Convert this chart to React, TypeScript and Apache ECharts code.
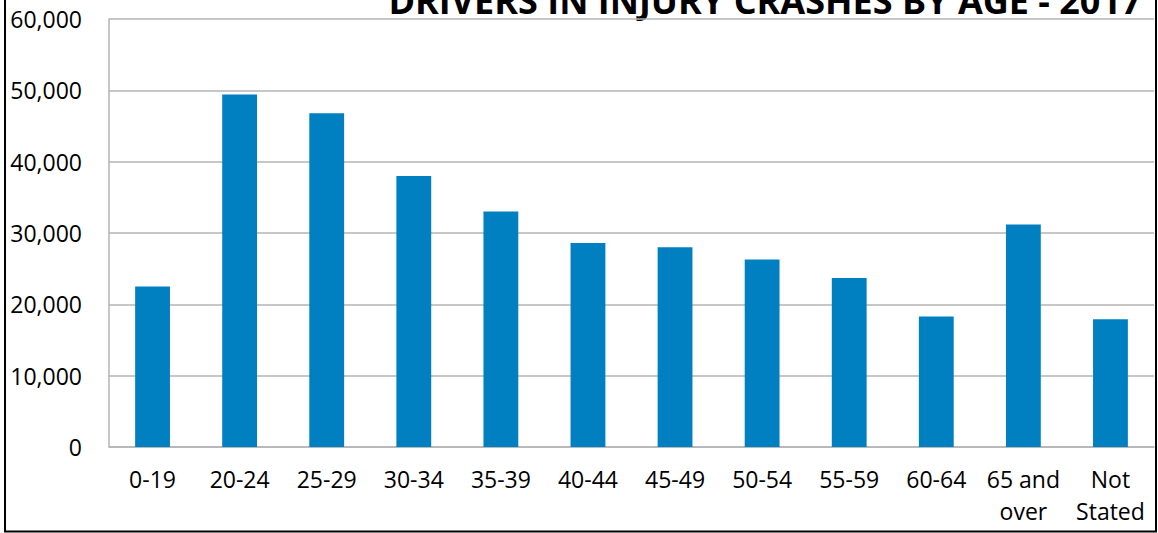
import React, { useEffect, useRef } from "react";
import * as echarts from "echarts";

const categories = [
  "0-19",
  "20-24",
  "25-29",
  "30-34",
  "35-39",
  "40-44",
  "45-49",
  "50-54",
  "55-59",
  "60-64",
  "65 and\nover",
  "Not\nStated",
];

const drivers = [22500, 49400, 46800, 38000, 33000, 28600, 28000, 26300, 23700, 18300, 31200, 17900];

const titleText = "DRIVERS IN INJURY CRASHES BY AGE - 2017";

const FONT = "'Open Sans', 'Noto Sans', sans-serif";

export default function App() {
  const ref = useRef<HTMLDivElement>(null);

  useEffect(() => {
    if (!ref.current) return;
    const chart = echarts.init(ref.current, null, { renderer: "svg" });
    chart.setOption({
      animation: false,
      backgroundColor: "#ffffff",
      textStyle: { fontFamily: FONT },
      grid: { left: 109, right: 4, top: 19, bottom: 86, containLabel: false },
      xAxis: {
        type: "category",
        data: categories,
        axisTick: { show: false },
        axisLine: { show: true, lineStyle: { color: "#b4b4b4", width: 1.5 } },
        axisLabel: {
          color: "#000",
          fontSize: 23,
          fontFamily: FONT,
          margin: 16,
          lineHeight: 32,
          interval: 0,
        },
      },
      yAxis: {
        type: "value",
        min: 0,
        max: 60000,
        interval: 10000,
        axisLine: { show: true, lineStyle: { color: "#b4b4b4", width: 1.5 } },
        axisTick: { show: false },
        splitLine: { show: true, lineStyle: { color: "#b4b4b4", width: 1.5 } },
        axisLabel: {
          color: "#000",
          fontSize: 23,
          fontFamily: FONT,
          margin: 27,
          formatter: (v: number) => v.toLocaleString("en-US"),
        },
      },
      series: [
        {
          type: "bar",
          data: drivers,
          barCategoryGap: "60%",
          itemStyle: { color: "#0080c0" },
        },
      ],
      graphic: [
        {
          type: "rect",
          shape: { x: 5, y: -10, width: 1151, height: 541.5 },
          style: { fill: "none", stroke: "#000", lineWidth: 2 },
          silent: true,
        },
        {
          type: "text",
          x: 765,
          y: 0,
          style: {
            text: titleText,
            fill: "#000",
            font: `bold 36px ${FONT}`,
            textAlign: "center",
            textVerticalAlign: "middle",
          },
          silent: true,
        },
      ],
    });
    return () => chart.dispose();
  }, []);

  return (
    <div
      ref={ref}
      style={{ position: "absolute", left: 0, top: 0, width: 1158, height: 533 }}
    />
  );
}
